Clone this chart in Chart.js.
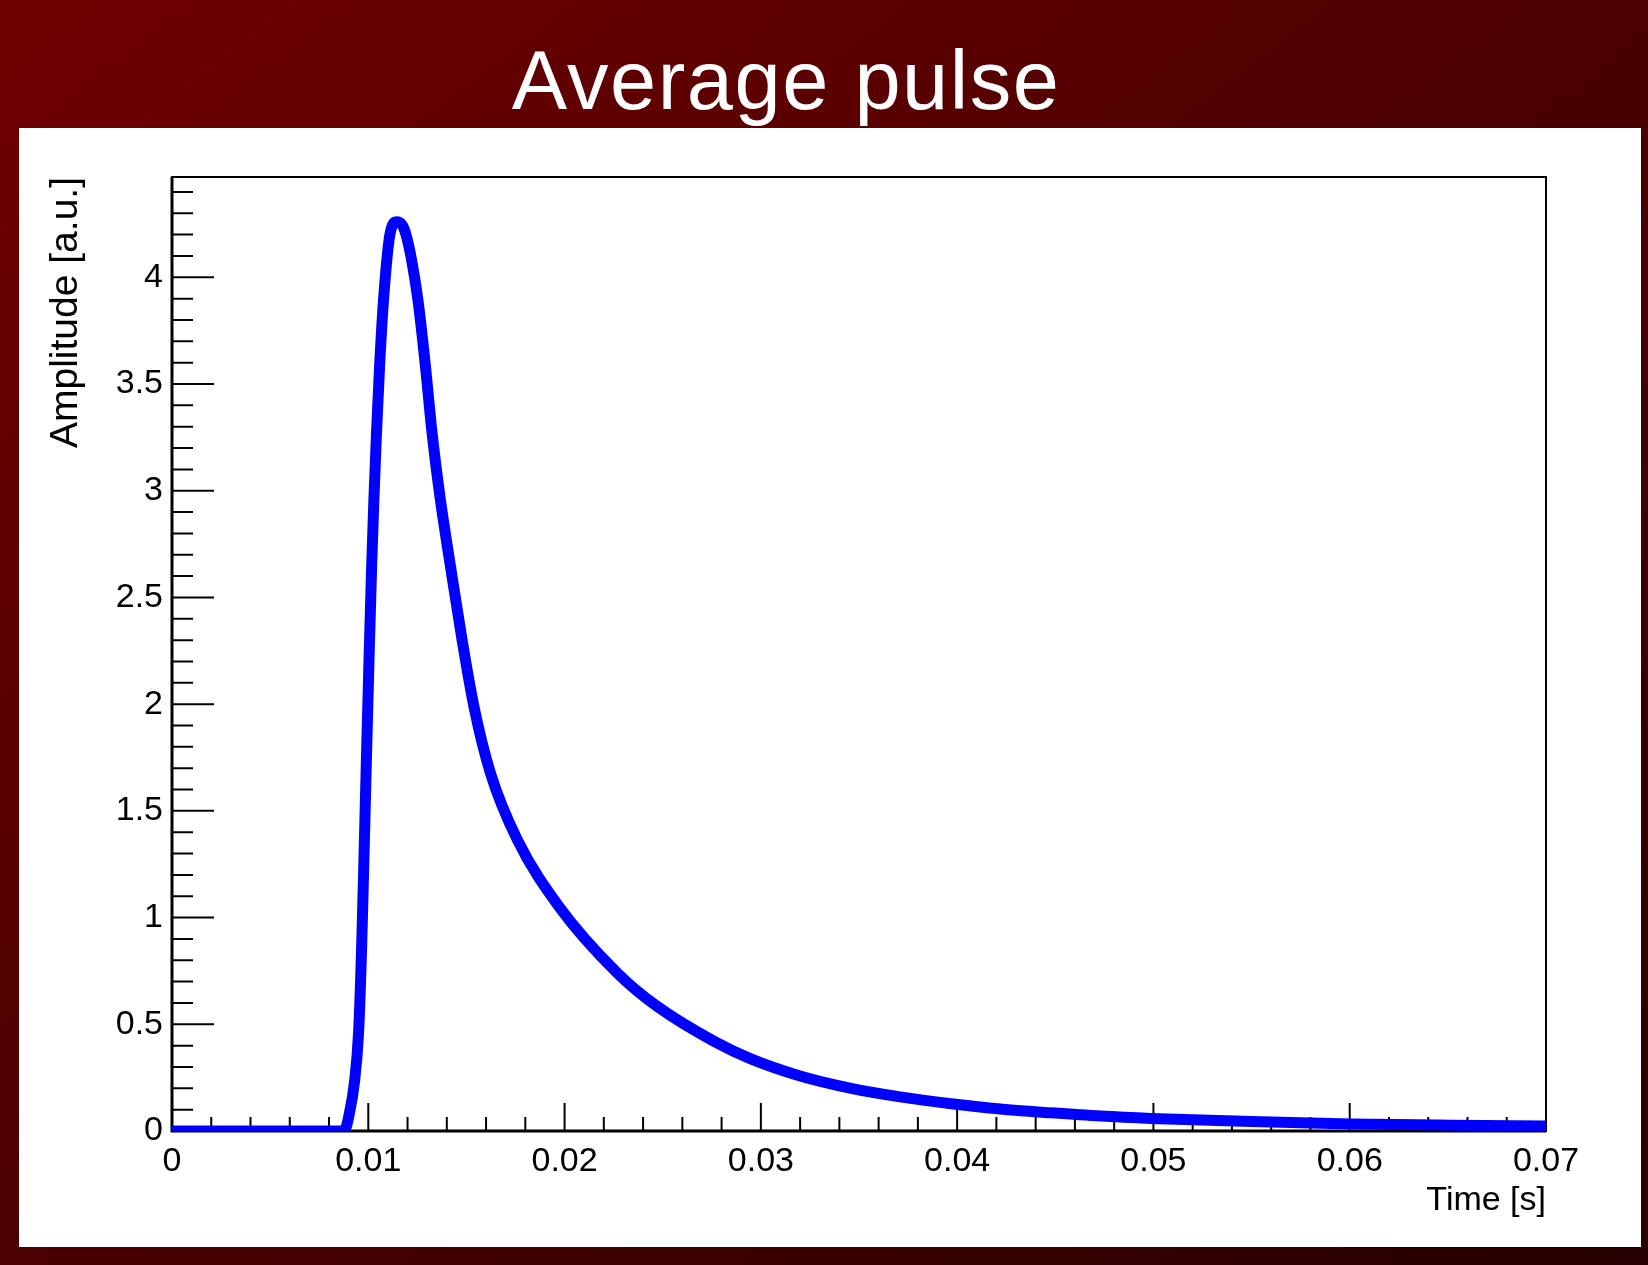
<!DOCTYPE html>
<html><head><meta charset="utf-8">
<script src="https://cdn.jsdelivr.net/npm/chart.js@4.4.1/dist/chart.umd.min.js"></script>
<style>
html,body{margin:0;padding:0;}
body{width:1648px;height:1265px;overflow:hidden;position:relative;background:linear-gradient(to bottom right,#700000 0%,#260000 100%);font-family:"Liberation Sans",Arial,sans-serif;}
#title{position:absolute;left:386px;top:39px;width:800px;text-align:center;color:#fff;font-size:83px;line-height:83px;letter-spacing:1.5px;white-space:nowrap;}
#panel{position:absolute;left:19px;top:128px;width:1622px;height:1119px;background:#fff;}
#panel canvas{position:absolute;left:0;top:0;}
</style></head>
<body>
<div id="title">Average pulse</div>
<div id="panel"><canvas id="c" width="1622" height="1119"></canvas></div>
<script>
const timeValues = [0, 0.00872, 0.00888, 0.00900, 0.00929, 0.009505, 0.009658, 0.009791, 0.009918, 0.010051, 0.010173, 0.010286, 0.010418, 0.010577, 0.010781, 0.011122, 0.011464, 0.01189, 0.01252, 0.01291, 0.01325, 0.01367, 0.01418, 0.01478, 0.01538, 0.01622, 0.01759, 0.01971, 0.02269, 0.02473, 0.02762, 0.02949, 0.0320, 0.0346, 0.0371, 0.0397, 0.0422, 0.0448, 0.0473, 0.0499, 0.0550, 0.0601, 0.0652, 0.0700];
const amplitudeValues = [0, 0, 0.02, 0.066, 0.225, 0.46, 0.85, 1.32, 1.79, 2.256, 2.65, 2.96, 3.27, 3.585, 3.90, 4.21, 4.26, 4.21, 3.90, 3.585, 3.27, 2.96, 2.65, 2.30, 1.99, 1.678, 1.365, 1.052, 0.740, 0.583, 0.420, 0.338, 0.258, 0.200, 0.160, 0.128, 0.103, 0.085, 0.070, 0.059, 0.044, 0.033, 0.027, 0.023];
const xMajorTicks = [0, 0.01, 0.02, 0.03, 0.04, 0.05, 0.06, 0.07];
const xTickLabels = ['0', '0.01', '0.02', '0.03', '0.04', '0.05', '0.06', '0.07'];
const yMajorTicks = [0, 0.5, 1, 1.5, 2, 2.5, 3, 3.5, 4];
const yTickLabels = ['0', '0.5', '1', '1.5', '2', '2.5', '3', '3.5', '4'];
const xMin = 0, xMax = 0.07, yMin = 0, yMax = 4.47;
const xMinorStep = 0.002, yMinorStep = 0.1;

const xMinorTicks = [];
for (let i = 1; i * xMinorStep < xMax - 1e-9; i++) { if (i % 5) xMinorTicks.push(i * xMinorStep); }
const yMinorTicks = [];
for (let i = 1; i * yMinorStep < yMax - 1e-9; i++) { if (i % 5) yMinorTicks.push(i * yMinorStep); }

const FONT = '"Liberation Sans", Arial, sans-serif';

const rootAxes = {
  id: 'rootAxes',
  beforeDatasetsDraw(chart) {
    const {ctx, chartArea: a, scales: {x, y}} = chart;
    ctx.save();
    ctx.strokeStyle = '#000';
    ctx.lineWidth = 2;
    ctx.strokeRect(a.left, a.top, a.right - a.left, a.bottom - a.top);
    ctx.lineWidth = 3;
    ctx.beginPath();
    ctx.moveTo(a.left, a.top); ctx.lineTo(a.left, a.bottom); ctx.lineTo(a.right, a.bottom);
    ctx.stroke();
    ctx.lineWidth = 2;
    ctx.beginPath();
    xMajorTicks.forEach(v => { const p = x.getPixelForValue(v); ctx.moveTo(p, a.bottom); ctx.lineTo(p, a.bottom - 28); });
    xMinorTicks.forEach(v => { const p = x.getPixelForValue(v); ctx.moveTo(p, a.bottom); ctx.lineTo(p, a.bottom - 14); });
    yMajorTicks.forEach(v => { const p = y.getPixelForValue(v); ctx.moveTo(a.left, p); ctx.lineTo(a.left + 42, p); });
    yMinorTicks.forEach(v => { const p = y.getPixelForValue(v); ctx.moveTo(a.left, p); ctx.lineTo(a.left + 21, p); });
    ctx.stroke();
    ctx.restore();
  }
};

new Chart(document.getElementById('c'), {
  type: 'line',
  data: {
    datasets: [{
      data: timeValues.map((t, i) => ({x: t, y: amplitudeValues[i]})),
      borderColor: '#0000ff',
      borderWidth: 11,
      pointRadius: 0,
      fill: false,
      cubicInterpolationMode: 'monotone',
      borderJoinStyle: 'round'
    }]
  },
  options: {
    responsive: false,
    animation: false,
    devicePixelRatio: 1,
    layout: {padding: {left: 0, right: 95, top: 49, bottom: 0}},
    plugins: {legend: {display: false}, tooltip: {enabled: false}},
    scales: {
      x: {
        type: 'linear', min: xMin, max: xMax,
        afterBuildTicks: s => { s.ticks = xMajorTicks.map(v => ({value: v})); },
        afterFit: s => { s.height = 116; },
        grid: {display: false, drawTicks: false},
        border: {display: false},
        ticks: {padding: 10, color: '#000', font: {family: FONT, size: 34}, maxRotation: 0, autoSkip: false,
                callback: (v, i) => xTickLabels[i]},
        title: {display: true, text: 'Time [s]', align: 'end', color: '#000',
                font: {family: FONT, size: 34}, padding: {top: 0, bottom: 26}}
      },
      y: {
        type: 'linear', min: yMin, max: yMax,
        afterBuildTicks: s => { s.ticks = yMajorTicks.map(v => ({value: v})); },
        afterFit: s => { s.width = 153; },
        grid: {display: false, drawTicks: false},
        border: {display: false},
        ticks: {padding: 9, color: '#000', font: {family: FONT, size: 34}, autoSkip: false,
                callback: (v, i) => yTickLabels[i]},
        title: {display: true, text: 'Amplitude [a.u.]', align: 'end', color: '#000',
                font: {family: FONT, size: 39}, padding: {top: 24, bottom: 0}}
      }
    }
  },
  plugins: [rootAxes]
});
</script>
</body></html>
